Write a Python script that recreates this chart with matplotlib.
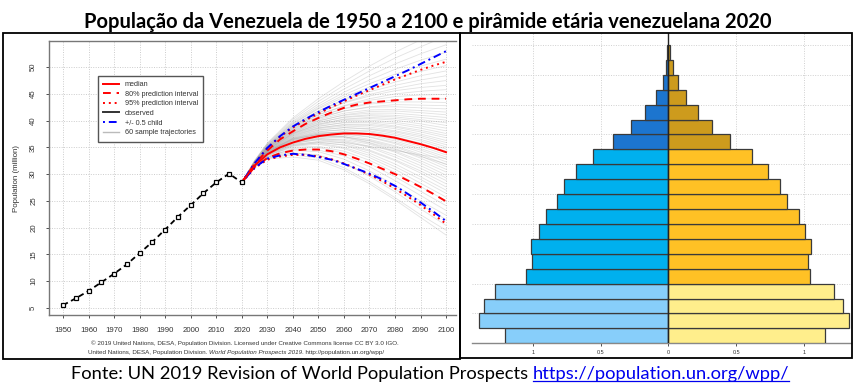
import matplotlib
matplotlib.use('Agg')
import matplotlib.pyplot as plt
from matplotlib.lines import Line2D
from matplotlib.patches import Rectangle

W, H = 856, 389
fig = plt.figure(figsize=(W / 100, H / 100), dpi=100)
plt.rcParams['font.family'] = ['Liberation Sans', 'DejaVu Sans']


def fx(px):
    return px / W


def fy(py):
    return 1 - py / H


# ---------------- data ----------------
obs_years = [1950, 1955, 1960, 1965, 1970, 1975, 1980, 1985, 1990, 1995,
             2000, 2005, 2010, 2015, 2020]
obs_pop = [5.48, 6.76, 8.15, 9.75, 11.36, 13.13, 15.21, 17.32, 19.63, 22.0,
           24.19, 26.43, 28.44, 30.08, 28.44]

proj_years = [2020, 2025, 2030, 2035, 2040, 2045, 2050, 2055, 2060, 2065,
              2070, 2075, 2080, 2085, 2090, 2095, 2100]
median = [28.44, 31.6, 33.7, 35.0, 35.9, 36.6, 37.1, 37.4, 37.6, 37.6,
          37.5, 37.2, 36.8, 36.2, 35.6, 34.9, 34.1]
pi80_up = [28.44, 31.9, 34.4, 36.5, 38.0, 39.4, 40.5, 41.5, 42.4, 43.0,
           43.4, 43.6, 43.8, 44.0, 44.1, 44.1, 44.1]
pi80_lo = [28.44, 31.3, 33.0, 33.9, 34.4, 34.6, 34.6, 34.3, 33.7, 32.9,
           32.0, 31.0, 30.0, 28.8, 27.6, 26.3, 24.9]
pi95_up = [28.44, 32.0, 34.8, 37.0, 38.7, 40.1, 41.3, 42.5, 43.6, 44.7,
           45.7, 46.7, 47.7, 48.6, 49.5, 50.3, 51.0]
pi95_lo = [28.44, 31.1, 32.7, 33.3, 33.6, 33.6, 33.3, 32.8, 32.0, 31.0,
           29.9, 28.7, 27.3, 25.8, 24.2, 22.5, 20.7]
child_up = [28.44, 32.0, 34.9, 37.1, 38.9, 40.3, 41.6, 42.8, 43.9, 45.0,
            46.1, 47.2, 48.3, 49.4, 50.6, 51.8, 53.0]
child_lo = [28.44, 31.2, 32.9, 33.5, 33.8, 33.6, 33.2, 32.7, 31.9, 31.0,
            30.1, 29.0, 27.8, 26.3, 24.7, 23.0, 21.2]

traj_years = [2020, 2025, 2030, 2040, 2050, 2060, 2070, 2080, 2090, 2100]
traj_start = 28.44
trajectories = [
    [31.3, 32.8, 33.2, 32.6, 30.8, 28.2, 25.2, 21.9, 18.6],
    [31.4, 33.0, 33.6, 33.0, 31.2, 28.6, 25.6, 22.4, 19.5],
    [31.3, 32.9, 33.9, 33.6, 32.0, 29.6, 26.7, 23.5, 20.4],
    [31.5, 33.2, 34.0, 33.5, 32.0, 29.9, 27.2, 24.3, 21.5],
    [31.4, 33.1, 34.4, 34.2, 32.8, 30.6, 27.9, 25.0, 22.3],
    [31.5, 33.3, 34.6, 34.5, 33.4, 31.4, 28.8, 26.0, 23.2],
    [31.4, 33.2, 34.8, 35.0, 33.9, 32.0, 29.5, 26.8, 24.1],
    [31.6, 33.5, 35.0, 35.2, 34.3, 32.6, 30.3, 27.7, 25.0],
    [31.5, 33.4, 35.2, 35.6, 34.8, 33.1, 30.9, 28.3, 25.7],
    [31.5, 33.6, 35.4, 35.8, 35.0, 33.5, 31.4, 29.0, 26.4],
    [31.6, 33.7, 35.6, 36.0, 35.4, 33.9, 31.9, 29.5, 27.0],
    [31.5, 33.5, 35.3, 35.9, 35.5, 34.3, 32.5, 30.2, 27.6],
    [31.6, 33.8, 35.8, 36.4, 35.8, 34.5, 32.7, 30.6, 28.2],
    [31.5, 33.6, 35.7, 36.5, 36.1, 35.0, 33.2, 31.1, 28.8],
    [31.7, 33.9, 36.0, 36.7, 36.3, 35.2, 33.6, 31.6, 29.3],
    [31.6, 33.8, 35.9, 36.6, 36.5, 35.6, 34.1, 32.1, 29.8],
    [31.6, 33.9, 36.2, 37.0, 36.8, 35.8, 34.3, 32.5, 30.4],
    [31.7, 34.0, 36.3, 37.1, 37.0, 36.2, 34.8, 33.0, 30.9],
    [31.6, 33.8, 36.0, 36.9, 37.0, 36.3, 35.1, 33.4, 31.4],
    [31.7, 34.1, 36.5, 37.4, 37.3, 36.5, 35.3, 33.7, 31.8],
    [31.6, 33.9, 36.3, 37.3, 37.5, 36.9, 35.7, 34.1, 32.3],
    [31.7, 34.0, 36.5, 37.5, 37.6, 37.0, 35.9, 34.5, 32.8],
    [31.8, 34.2, 36.7, 37.7, 37.8, 37.3, 36.2, 34.8, 33.2],
    [31.7, 34.1, 36.6, 37.7, 37.9, 37.5, 36.5, 35.2, 33.6],
    [31.7, 34.0, 36.4, 37.5, 37.9, 37.6, 36.8, 35.6, 34.0],
    [31.8, 34.2, 36.8, 38.0, 38.3, 37.9, 37.0, 35.8, 34.3],
    [31.7, 34.1, 36.7, 37.9, 38.3, 38.1, 37.3, 36.2, 34.7],
    [31.8, 34.3, 37.0, 38.3, 38.7, 38.4, 37.6, 36.5, 35.1],
    [31.8, 34.2, 36.9, 38.2, 38.7, 38.5, 37.9, 36.9, 35.5],
    [31.8, 34.3, 37.1, 38.5, 39.0, 38.8, 38.1, 37.2, 35.9],
    [31.9, 34.4, 37.3, 38.7, 39.2, 39.1, 38.5, 37.5, 36.3],
    [31.8, 34.3, 37.2, 38.6, 39.3, 39.3, 38.8, 37.9, 36.8],
    [31.9, 34.5, 37.5, 39.0, 39.6, 39.6, 39.0, 38.2, 37.2],
    [31.8, 34.4, 37.4, 38.9, 39.7, 39.8, 39.4, 38.6, 37.6],
    [31.9, 34.5, 37.6, 39.2, 40.0, 40.1, 39.7, 39.0, 38.1],
    [31.9, 34.6, 37.7, 39.4, 40.2, 40.4, 40.1, 39.4, 38.6],
    [31.9, 34.5, 37.6, 39.3, 40.3, 40.6, 40.4, 39.9, 39.1],
    [32.0, 34.7, 37.9, 39.7, 40.6, 40.9, 40.7, 40.2, 39.6],
    [31.9, 34.6, 37.8, 39.6, 40.7, 41.1, 41.0, 40.6, 40.1],
    [32.0, 34.8, 38.1, 40.0, 41.0, 41.4, 41.4, 41.0, 40.6],
    [32.0, 34.7, 38.0, 39.9, 41.1, 41.7, 41.8, 41.5, 41.1],
    [32.0, 34.8, 38.2, 40.2, 41.4, 42.0, 42.1, 41.9, 41.6],
    [32.1, 34.9, 38.4, 40.5, 41.8, 42.5, 42.6, 42.4, 42.2],
    [32.0, 34.8, 38.3, 40.4, 41.8, 42.6, 43.0, 42.9, 42.8],
    [32.1, 35.0, 38.6, 40.8, 42.2, 43.1, 43.5, 43.5, 43.4],
    [32.1, 34.9, 38.5, 40.7, 42.3, 43.3, 43.9, 44.1, 44.1],
    [32.2, 35.1, 38.8, 41.1, 42.7, 43.8, 44.5, 44.8, 44.9],
    [32.1, 35.0, 38.7, 41.1, 42.8, 44.1, 45.0, 45.5, 45.8],
    [32.2, 35.2, 39.0, 41.5, 43.3, 44.6, 45.6, 46.2, 46.6],
    [32.2, 35.1, 38.9, 41.4, 43.4, 44.9, 46.0, 46.9, 47.5],
    [32.3, 35.3, 39.2, 41.8, 43.8, 45.4, 46.6, 47.6, 48.4],
    [32.2, 35.2, 39.1, 41.8, 44.0, 45.8, 47.2, 48.4, 49.3],
    [32.3, 35.4, 39.4, 42.2, 44.4, 46.3, 47.9, 49.2, 50.3],
    [32.3, 35.4, 39.5, 42.4, 44.8, 46.9, 48.7, 50.2, 51.5],
    [32.4, 35.5, 39.7, 42.7, 45.3, 47.6, 49.6, 51.3, 52.8],
    [32.4, 35.6, 39.9, 43.1, 45.9, 48.4, 50.6, 52.5, 54.2],
    [32.5, 35.7, 40.2, 43.6, 46.6, 49.3, 51.7, 53.8, 55.8],
    [32.5, 35.8, 40.5, 44.1, 47.3, 50.2, 52.8, 55.1, 57.2],
    [31.6, 33.7, 35.5, 36.1, 35.9, 35.2, 34.4, 33.6, 32.9],
    [31.8, 34.2, 36.6, 37.4, 37.0, 35.9, 34.6, 33.3, 31.9],
]

x_ticks = list(range(1950, 2101, 10))
y_ticks = list(range(5, 51, 5))

legend_labels = ["median", "80% prediction interval", "95% prediction interval",
                 "observed", "+/- 0.5 child", "60 sample trajectories"]

# pyramid (millions), age groups 0-4 ... 95-99, bottom to top
age_groups = ["0-4", "5-9", "10-14", "15-19", "20-24", "25-29", "30-34", "35-39",
              "40-44", "45-49", "50-54", "55-59", "60-64", "65-69", "70-74",
              "75-79", "80-84", "85-89", "90-94", "95-99"]
male = [1.205, 1.395, 1.360, 1.277, 1.050, 1.004, 1.011, 0.952, 0.900, 0.819,
        0.772, 0.679, 0.553, 0.406, 0.273, 0.170, 0.093, 0.039, 0.019, 0.007]
female = [1.159, 1.331, 1.289, 1.223, 1.043, 1.028, 1.053, 1.011, 0.967, 0.873,
          0.827, 0.738, 0.620, 0.458, 0.322, 0.216, 0.133, 0.074, 0.035, 0.010]
pyr_ticks = [-1, -0.5, 0, 0.5, 1]
pyr_ticklabels = ["1", "0.5", "0", "0.5", "1"]

title = "População da Venezuela de 1950 a 2100 e pirâmide etária venezuelana 2020"
source_text = "Fonte: UN 2019 Revision of World Population Prospects "
source_link = "https://population.un.org/wpp/"

# ---------------- left chart ----------------
ax = fig.add_axes([fx(49), fy(315), fx(456) - fx(49), fy(41) - fy(315)])
ax.set_xlim(1944.5, 2103.9)
ax.set_ylim(3.64, 54.9)
ax.set_xticks(x_ticks)
ax.set_yticks(y_ticks)
ax.grid(True, color='#cccccc', linestyle=(0, (1, 1.5)), linewidth=0.7)
ax.set_axisbelow(True)
for s in ['left', 'bottom', 'top', 'right']:
    ax.spines[s].set_color('#777777')
    ax.spines[s].set_linewidth(1.0)
ax.spines['right'].set_visible(False)
ax.tick_params(axis='both', labelsize=5.6, colors='#333333', length=2.5,
               width=0.6, pad=6)
ax.tick_params(axis='x', pad=6)
for lab in ax.get_yticklabels():
    lab.set_rotation(90)
    lab.set_va('center')

for tr in trajectories:
    ax.plot(traj_years, [traj_start] + tr, color='#a0a0a0', alpha=0.3,
            linewidth=0.6, zorder=2)

ax.plot(proj_years, pi95_up, color='red', linestyle=(0, (1, 2)), linewidth=1.4, zorder=4)
ax.plot(proj_years, pi95_lo, color='red', linestyle=(0, (1, 2)), linewidth=1.4, zorder=4)
ax.plot(proj_years, child_up, color='blue', linestyle=(0, (1, 2, 4, 2)), linewidth=1.4, zorder=5)
ax.plot(proj_years, child_lo, color='blue', linestyle=(0, (1, 2, 4, 2)), linewidth=1.4, zorder=5)
ax.plot(proj_years, pi80_up, color='red', linestyle=(0, (4, 3)), linewidth=1.4, zorder=4)
ax.plot(proj_years, pi80_lo, color='red', linestyle=(0, (4, 3)), linewidth=1.4, zorder=4)
ax.plot(proj_years, median, color='red', linestyle='-', linewidth=1.4, zorder=6)
ax.plot(obs_years, obs_pop, color='black', linestyle=(0, (3, 2)), linewidth=1.3,
        marker='s', markersize=2.4, markerfacecolor='white', markeredgecolor='black',
        markeredgewidth=0.9, zorder=7)

handles = [
    Line2D([], [], color='red', linestyle='-', linewidth=1.4),
    Line2D([], [], color='red', linestyle=(0, (4, 3)), linewidth=1.4),
    Line2D([], [], color='red', linestyle=(0, (1, 2)), linewidth=1.4),
    Line2D([], [], color='#333333', linestyle='-', linewidth=1.4),
    Line2D([], [], color='blue', linestyle=(0, (1, 2, 4, 2)), linewidth=1.4),
    Line2D([], [], color='#bbbbbb', linestyle='-', linewidth=1.0),
]
leg = ax.legend(handles, legend_labels, loc='upper left',
                bbox_to_anchor=(fx(97.7), fy(75.7)), bbox_transform=fig.transFigure,
                borderaxespad=0, fontsize=5.2, frameon=True, fancybox=False,
                edgecolor='#555555', framealpha=1, handlelength=2.2,
                handletextpad=0.8, labelspacing=0.35, borderpad=0.75)
leg.get_frame().set_linewidth(1.0)
for t in leg.get_texts():
    t.set_color('#333333')

fig.text(fx(17), fy(178), "Population (million)", rotation=90, ha='center',
         va='center', fontsize=5.7, color='#333333')

c1 = fig.text(fx(245), fy(343.5),
              "© 2019 United Nations, DESA, Population Division. Licensed under "
              "Creative Commons license CC BY 3.0 IGO.",
              ha='center', va='center', fontsize=4.5, color='#333333')
p1 = fig.text(fx(88), fy(354), "United Nations, DESA, Population Division. ",
              ha='left', va='baseline', fontsize=4.5, color='#333333')
p2 = fig.text(0, 0, "World Population Prospects 2019", fontsize=4.5,
              color='#333333', style='italic', ha='left', va='baseline')
p3 = fig.text(0, 0, ". http://population.un.org/wpp/", fontsize=4.5,
              color='#333333', ha='left', va='baseline')

# ---------------- right chart (pyramid) ----------------
ax2 = fig.add_axes([fx(471.7), fy(343.3), fx(850.7) - fx(471.7), fy(33) - fy(343.3)])
ax2.set_xlim(-1.451, 1.346)
ax2.set_ylim(0, 20.8)
ypos = [i + 0.5 for i in range(len(age_groups))]
male_cols = []
female_cols = []
for i in range(len(age_groups)):
    if i < 4:
        male_cols.append('#87CEFA'); female_cols.append('#FFEE8C')
    elif i < 13:
        male_cols.append('#00B0EE'); female_cols.append('#FFC125')
    else:
        male_cols.append('#1C75CF'); female_cols.append('#CD9B1D')
ax2.barh(ypos, [-m for m in male], height=1.0, color=male_cols,
         edgecolor='#3a3a3a', linewidth=0.9, zorder=3)
ax2.barh(ypos, female, height=1.0, color=female_cols,
         edgecolor='#3a3a3a', linewidth=0.9, zorder=3)
ax2.axvline(0, color='#222222', linewidth=1.0, zorder=4)
for yv in range(2, 21, 2):
    ax2.axhline(yv, color='#d0d0d0', linestyle=(0, (1, 1.5)), linewidth=0.7, zorder=1)
for xv in [-1, -0.5, 0.5, 1]:
    ax2.axvline(xv, color='#d0d0d0', linestyle=(0, (1, 1.5)), linewidth=0.7, zorder=1)
ax2.set_xticks(pyr_ticks)
ax2.set_xticklabels(pyr_ticklabels)
ax2.set_yticks([])
ax2.tick_params(axis='x', labelsize=4.0, colors='#333333', length=2.5, width=0.6, pad=2.5)
for s in ['left', 'top', 'right']:
    ax2.spines[s].set_visible(False)
ax2.spines['bottom'].set_color('#888888')
ax2.spines['bottom'].set_linewidth(1.0)

# ---------------- panel borders ----------------
fig.add_artist(Rectangle((fx(3), fy(359)), fx(460) - fx(3), fy(33) - fy(359),
                         transform=fig.transFigure, fill=False, edgecolor='black',
                         linewidth=1.3))
fig.add_artist(Rectangle((fx(460), fy(358)), fx(852) - fx(460), fy(33) - fy(358),
                         transform=fig.transFigure, fill=False, edgecolor='black',
                         linewidth=1.3))

# ---------------- title & source ----------------
tt = fig.text(fx(428), fy(27.5), title, ha='center', va='baseline',
              fontsize=14, fontweight='bold', family=['Lato', 'DejaVu Sans'])
s1 = fig.text(fx(70.7), fy(379.3), source_text, ha='left', va='baseline',
              fontsize=12, family=['Lato', 'DejaVu Sans'])
s2 = fig.text(0, 0, source_link, ha='left', va='baseline', fontsize=12,
              color='#0000EE', family=['Lato', 'DejaVu Sans'])

fig.canvas.draw()
r = fig.canvas.get_renderer()

bb = tt.get_window_extent(r)
tt.set_fontsize(14 * 693 / bb.width)
w1 = s1.get_window_extent(r).width
w2 = s2.get_window_extent(r).width
scale = 716 / (w1 + w2)
s1.set_fontsize(12 * scale)
s2.set_fontsize(12 * scale)
fig.canvas.draw()
b1 = s1.get_window_extent(r)
s2.set_position((b1.x1 / W, fy(379.3)))
fig.canvas.draw()
b2 = s2.get_window_extent(r)
fig.add_artist(Line2D([b2.x0 / W, b2.x1 / W], [fy(381), fy(381)],
                      transform=fig.transFigure, color='#0000EE', linewidth=0.9))

bp1 = p1.get_window_extent(r)
p2.set_position((bp1.x1 / W, fy(354)))
fig.canvas.draw()
bp2 = p2.get_window_extent(r)
p3.set_position((bp2.x1 / W, fy(354)))

fig.savefig('out.png', dpi=100)
